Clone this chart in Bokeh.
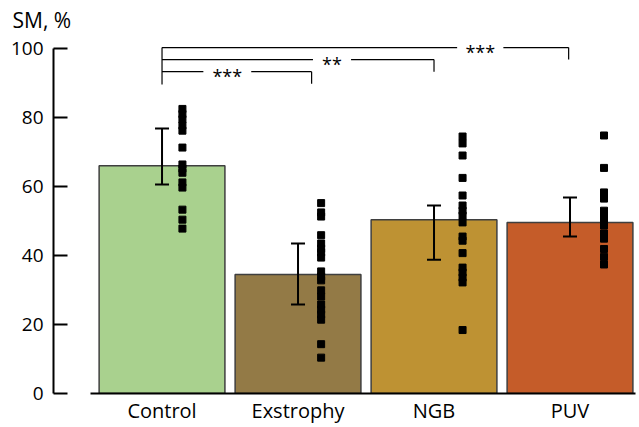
from bokeh.plotting import figure
from bokeh.models import ColumnDataSource, Whisker, FixedTicker, TeeHead
from bokeh.embed import file_html
from bokeh.resources import INLINE
from bokeh.core.properties import value

# ---------------- data ----------------
groups = ["Control", "Exstrophy", "NGB", "PUV"]
bar_values = [66.0, 34.5, 50.4, 49.6]
err_upper = [76.8, 43.5, 54.5, 56.8]
err_lower = [60.6, 25.8, 38.8, 45.5]

control_pts = [82.5, 81.0, 79.5, 77.7, 76.2, 71.3, 66.4, 65.2, 64.0, 61.2, 59.7, 53.3, 50.4, 47.8]
exstrophy_pts = [55.2, 52.5, 51.3, 45.9, 43.5, 42.0, 40.9, 39.4, 35.4, 33.9, 32.8, 29.9, 28.1,
                 25.8, 24.3, 22.9, 21.4, 14.3, 10.4]
ngb_pts = [74.5, 72.5, 69.0, 62.5, 57.4, 54.5, 53.0, 51.6, 49.6, 45.5, 44.3, 40.7, 36.5, 35.1,
           33.6, 32.2, 18.4]
puv_pts = [74.8, 65.4, 58.3, 56.5, 53.0, 51.9, 49.9, 48.7, 46.4, 44.9, 41.9, 39.6, 37.4]
points = [control_pts, exstrophy_pts, ngb_pts, puv_pts]

y_ticks = [0, 20, 40, 60, 80, 100]
sig_labels = ["***", "**", "***"]          # Control vs Exstrophy, NGB, PUV

# ---------------- style ----------------
colors = ["#A9D18E", "#937A46", "#BE9233", "#C55C29"]
point_offsets = [0.15, 0.17, 0.21, 0.25]
FONT = "Open Sans"

xs = [1, 2, 3, 4]

p = figure(width=639, height=427, x_range=(0.202, 4.511), y_range=(0, 103.5),
           output_backend="svg", toolbar_location=None,
           min_border_left=53, min_border_right=0, min_border_top=36, min_border_bottom=34)
p.outline_line_color = None
p.xgrid.visible = False
p.ygrid.visible = False
p.background_fill_color = "white"
p.border_fill_color = "white"

p.vbar(x=xs, top=bar_values, width=0.925, bottom=0, fill_color=colors,
       line_color="#3F3F3F", line_width=1.5)

src = ColumnDataSource(dict(x=xs, upper=err_upper, lower=err_lower))
wh = Whisker(base="x", upper="upper", lower="lower", source=src,
             line_color="black", line_width=2,
             upper_head=TeeHead(size=14, line_width=2, line_color="black"),
             lower_head=TeeHead(size=14, line_width=2, line_color="black"),
             level="overlay")
p.add_layout(wh)

for i, pts in enumerate(points):
    p.scatter(x=[xs[i] + point_offsets[i]] * len(pts), y=pts, marker="square",
              size=7, fill_color="black", line_color="black")

# significance brackets
levels = [93.3, 96.8, 100.3]
ends = [2.1, 3.0, 3.99]
label_x = [1.48, 2.25, 3.34]
half_gap = [0.176, 0.14, 0.17]
drop = 3.5
for lev, e, lx, hg, lab in zip(levels, ends, label_x, half_gap, sig_labels):
    p.segment(x0=[1, lx + hg, e], y0=[lev, lev, lev], x1=[lx - hg, e, e], y1=[lev, lev, lev - drop],
              line_color="black", line_width=1.2)
    p.text(x=[lx], y=[lev], text=[lab], text_align="center", text_baseline="middle",
           text_font=value(FONT), text_font_size="18px", text_color="black", y_offset=4)
p.segment(x0=[1], y0=[levels[-1]], x1=[1], y1=[89.6], line_color="black", line_width=1.2)

# axes
p.yaxis.ticker = FixedTicker(ticks=y_ticks)
p.yaxis.bounds = (0, 100)
p.yaxis.major_tick_in = 14
p.yaxis.major_tick_out = 0
p.yaxis.minor_tick_line_color = None
p.yaxis.axis_line_width = 2
p.yaxis.major_tick_line_width = 2
p.yaxis.axis_line_color = "black"
p.yaxis.major_label_text_font = FONT
p.yaxis.major_label_text_font_size = "19px"
p.yaxis.major_label_text_color = "black"
p.yaxis.major_label_standoff = 10

p.xaxis.ticker = FixedTicker(ticks=xs)
p.xaxis.major_label_overrides = {x: g for x, g in zip(xs, groups)}
p.xaxis.bounds = (0.473, 4.48)
p.xaxis.major_tick_in = 0
p.xaxis.major_tick_out = 0
p.xaxis.minor_tick_line_color = None
p.xaxis.axis_line_width = 2
p.xaxis.axis_line_color = "black"
p.xaxis.major_label_text_font = FONT
p.xaxis.major_label_text_font_size = "20px"
p.xaxis.major_label_text_color = "black"
p.xaxis.major_label_standoff = 3

p.title.text = "SM, %"
p.title.align = "left"
p.title.offset = -41
p.title.text_font = FONT
p.title.text_font_size = "21px"
p.title.text_font_style = "normal"
p.title.text_color = "black"
p.title.standoff = 6

open("out.html", "w").write(file_html(p, INLINE))
